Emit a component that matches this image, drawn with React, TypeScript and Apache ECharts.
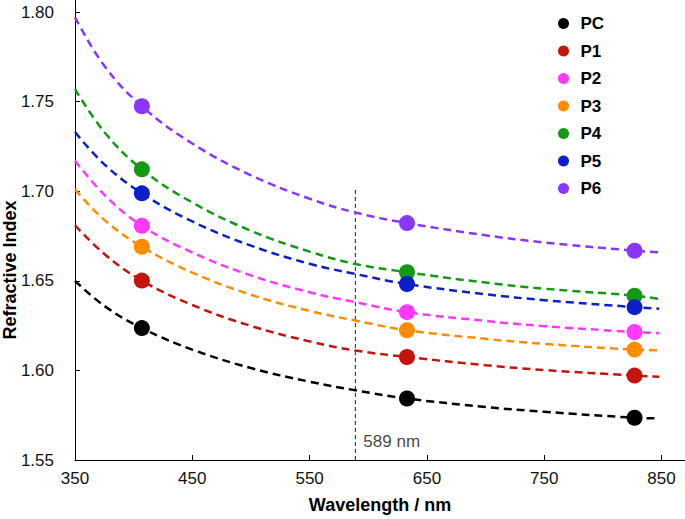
import React, { useEffect, useRef } from "react";
import * as echarts from "echarts";

// measured wavelengths (nm)
const wavelengths = [407, 633, 827];
// measured refractive indices
const PC = [1.6236, 1.5843, 1.5736];
const P1 = [1.6501, 1.6075, 1.5971];
const P2 = [1.6807, 1.6325, 1.6214];
const P3 = [1.669, 1.6224, 1.6116];
const P4 = [1.7122, 1.6548, 1.6417];
const P5 = [1.6988, 1.6482, 1.6353];
const P6 = [1.7474, 1.6822, 1.6668];

// dispersion fit curves
const fitWavelengths = [350, 375, 407, 450, 500, 550, 589, 633, 700, 750, 827, 848];
const PC_fit = [1.65, 1.636, 1.6236, 1.6116, 1.6013, 1.5937, 1.5889, 1.5843, 1.5796, 1.5769, 1.5736, 1.5732];
const P1_fit = [1.681, 1.665, 1.6501, 1.6365, 1.6248, 1.6162, 1.6111, 1.6075, 1.6029, 1.6002, 1.5971, 1.5964];
const P2_fit = [1.717, 1.698, 1.6807, 1.6658, 1.653, 1.6436, 1.6381, 1.6325, 1.6276, 1.6247, 1.6214, 1.6208];
const P3_fit = [1.701, 1.684, 1.669, 1.6546, 1.6422, 1.6332, 1.6278, 1.6224, 1.6176, 1.6148, 1.6116, 1.6112];
const P4_fit = [1.757, 1.733, 1.7122, 1.6937, 1.6779, 1.6663, 1.6594, 1.6548, 1.649, 1.6456, 1.6417, 1.6399];
const P5_fit = [1.733, 1.715, 1.6988, 1.6831, 1.6696, 1.6595, 1.6538, 1.6482, 1.6425, 1.6392, 1.6353, 1.6344];
const P6_fit = [1.797, 1.77, 1.7474, 1.7266, 1.7089, 1.6958, 1.6881, 1.6822, 1.6754, 1.6714, 1.6668, 1.6659];

const seriesNames = ["PC", "P1", "P2", "P3", "P4", "P5", "P6"];
const pointSets = [PC, P1, P2, P3, P4, P5, P6];
const fitSets = [PC_fit, P1_fit, P2_fit, P3_fit, P4_fit, P5_fit, P6_fit];
const colors = ["#000000", "#c4140c", "#ff38ff", "#ff8c00", "#139a13", "#0b20c8", "#8a36ff"];

const xTicks = [350, 450, 550, 650, 750, 850];
const yTicks = [1.55, 1.6, 1.65, 1.7, 1.75, 1.8];

const sodiumLine = 589;
const sodiumLineTop = 1.7016;

const FONT = "'Liberation Sans', Arial, Helvetica, sans-serif";

export default function App() {
  const ref = useRef<HTMLDivElement>(null);
  useEffect(() => {
    if (!ref.current) return;
    const chart = echarts.init(ref.current, null, { renderer: "svg" });
    const fitSeries = fitSets.map((vals, i) => ({
      type: "line",
      name: seriesNames[i] + " fit",
      data: fitWavelengths.map((w, j) => [w, vals[j]]),
      smooth: 0.4,
      showSymbol: false,
      symbol: "none",
      silent: true,
      z: 2,
      lineStyle: { color: colors[i], width: 2.5, type: [8, 5] },
    }));
    const pointSeries = pointSets.map((vals, i) => ({
      type: "scatter",
      name: seriesNames[i],
      data: wavelengths.map((w, j) => [w, vals[j]]),
      symbol: "circle",
      symbolSize: 16,
      z: 4,
      itemStyle: { color: colors[i], opacity: 1 },
    }));
    chart.setOption({
      animation: false,
      backgroundColor: "#ffffff",
      textStyle: { fontFamily: FONT },
      grid: { left: 75, right: 0, top: 0, bottom: 57, containLabel: false },
      legend: {
        data: seriesNames,
        orient: "vertical",
        left: 553,
        top: 10,
        icon: "circle",
        itemWidth: 24,
        itemHeight: 11,
        itemGap: 10.5,
        textStyle: { fontSize: 17, fontWeight: "bold", color: "#000", fontFamily: FONT },
        selectedMode: false,
      },
      xAxis: {
        type: "value",
        min: 350,
        max: 870,
        interval: 100,
        name: "Wavelength / nm",
        nameLocation: "middle",
        nameGap: 36,
        nameTextStyle: { fontSize: 18, fontWeight: "bold", color: "#000", fontFamily: FONT },
        axisLine: { show: true, lineStyle: { color: "#000", width: 1 } },
        axisTick: { show: true, inside: true, length: 5, customValues: xTicks, lineStyle: { color: "#000" } },
        axisLabel: { customValues: xTicks, fontSize: 17, color: "#111", margin: 10, fontFamily: FONT },
        splitLine: { show: false },
      },
      yAxis: {
        type: "value",
        min: 1.55,
        max: 1.8067,
        interval: 0.05,
        axisLine: { show: true, lineStyle: { color: "#000", width: 1 } },
        axisTick: { show: true, inside: true, length: 5, customValues: yTicks, lineStyle: { color: "#000" } },
        axisLabel: {
          customValues: yTicks,
          fontSize: 17,
          color: "#111",
          margin: 21,
          fontFamily: FONT,
          formatter: (v: number) => v.toFixed(2),
        },
        splitLine: { show: false },
      },
      graphic: [
        {
          type: "text",
          x: 10,
          y: 270,
          rotation: Math.PI / 2,
          style: {
            text: "Refractive Index",
            fontSize: 18,
            fontWeight: "bold",
            fill: "#000",
            fontFamily: FONT,
            align: "center",
            verticalAlign: "middle",
          },
        },
      ],
      series: [
        {
          type: "line",
          name: "589 nm",
          data: [
            [sodiumLine, 1.55],
            [sodiumLine, sodiumLineTop],
          ],
          symbol: "none",
          silent: true,
          z: 1,
          lineStyle: { color: "#222", width: 1, type: [4, 3] },
        },
        {
          type: "scatter",
          name: "589 label",
          data: [[sodiumLine, 1.5604]],
          symbolSize: 0,
          silent: true,
          label: {
            show: true,
            position: "right",
            distance: 8,
            formatter: "589 nm",
            fontSize: 17,
            color: "#111",
            fontFamily: FONT,
          },
        },
        ...fitSeries,
        ...pointSeries,
      ],
    });
    return () => chart.dispose();
  }, []);
  return <div ref={ref} style={{ width: 685, height: 519, position: "absolute", left: 0, top: 0 }} />;
}
